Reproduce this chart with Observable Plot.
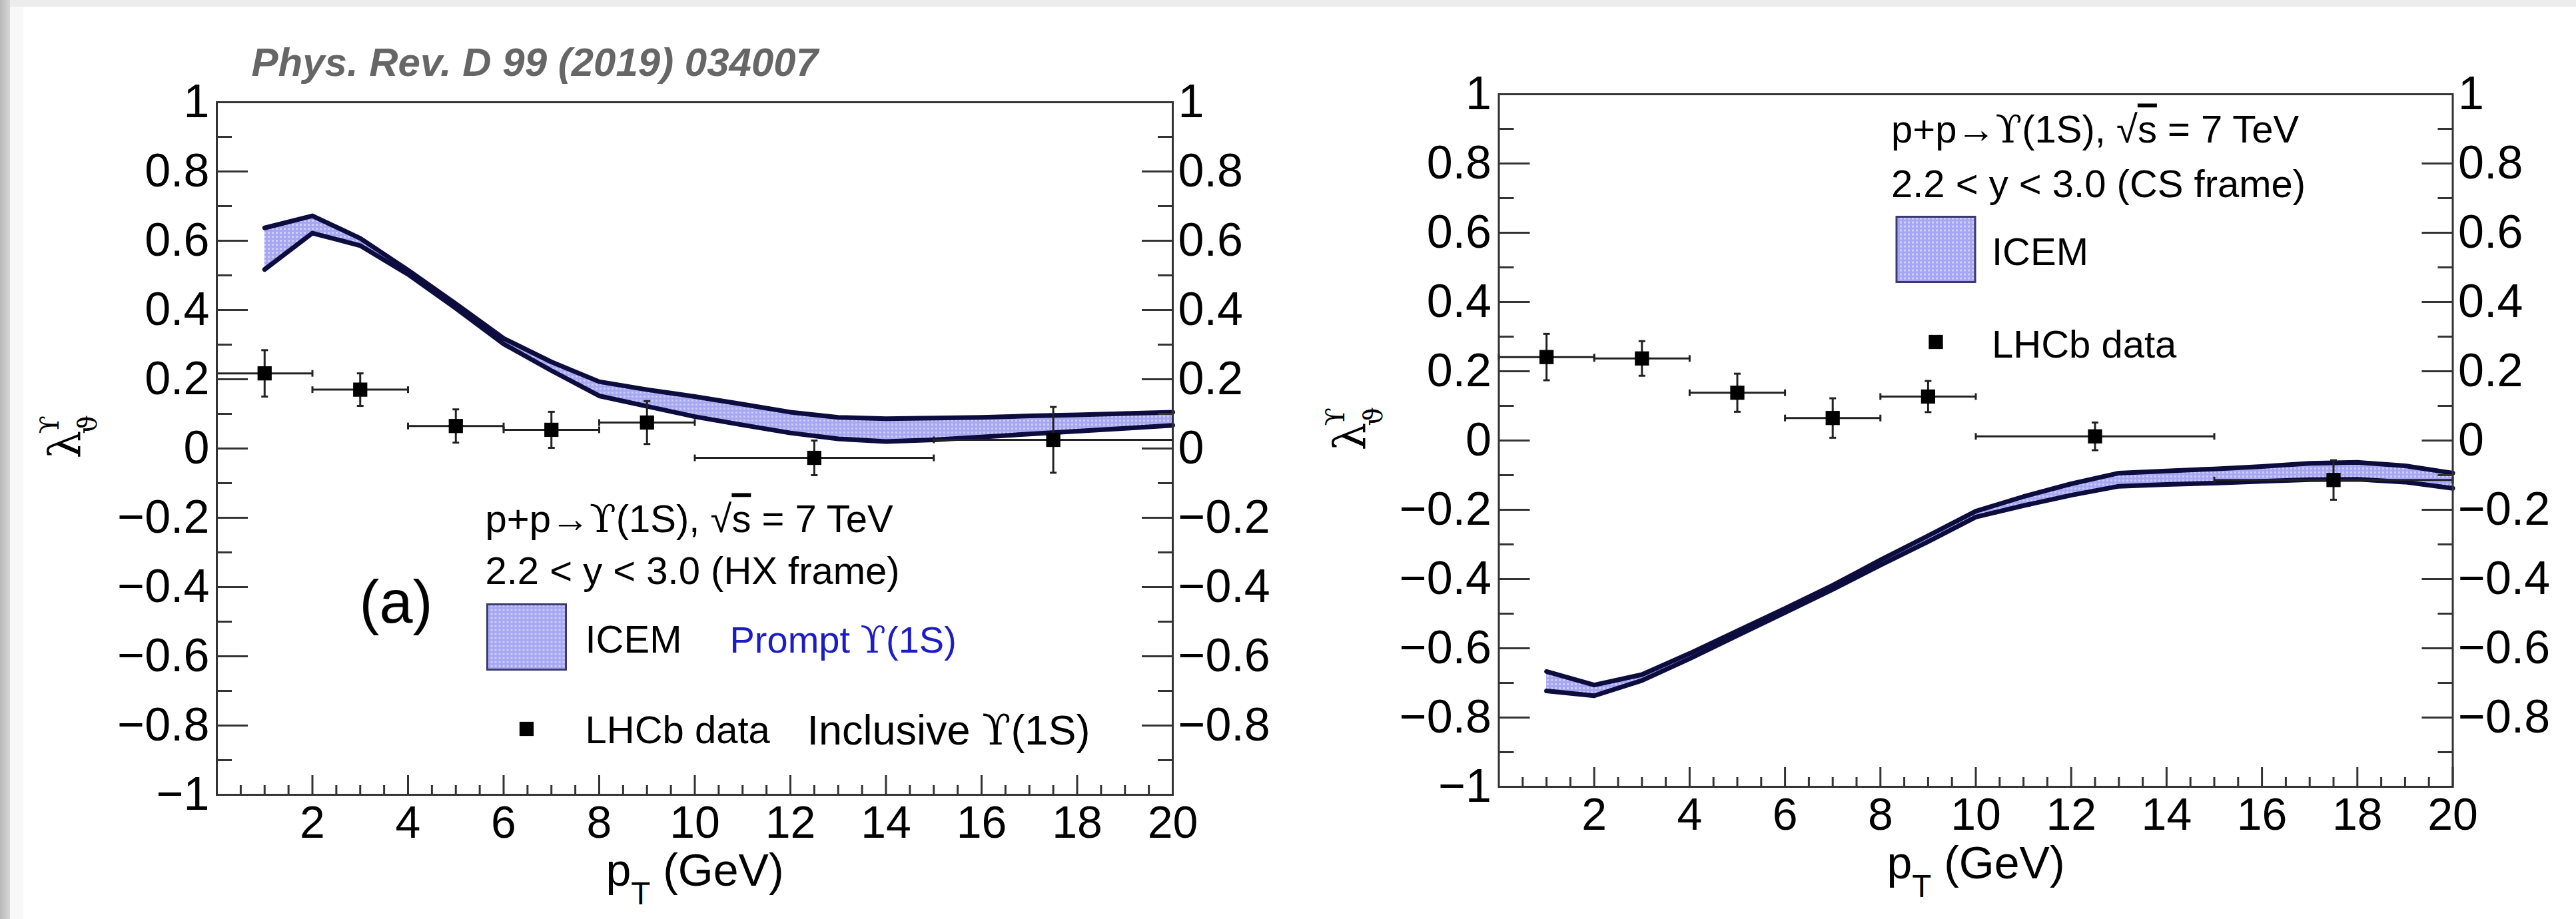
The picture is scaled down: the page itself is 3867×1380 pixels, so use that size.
<!DOCTYPE html>
<html>
<head>
<meta charset="utf-8">
<script src="https://cdn.jsdelivr.net/npm/d3@7"></script>
<script src="https://cdn.jsdelivr.net/npm/@observablehq/plot@0.6"></script>
<style>
html, body { margin: 0; padding: 0; background: #ffffff; }
#page { position: relative; width: 3867px; height: 1380px; overflow: hidden; background: #ffffff; }
#topbar { position: absolute; left: 0; top: 0; width: 3867px; height: 10px; background: #ececec; }
#leftbar { position: absolute; left: 0; top: 0; width: 15px; height: 1380px; background: linear-gradient(to right, #b8b8b8, #d6d6d6); }
#leftbar2 { position: absolute; left: 15px; top: 10px; width: 20px; height: 1370px; background: #f8f8f8; }
#left { position: absolute; left: 0; top: 0; width: 1950px; height: 1380px; }
#right { position: absolute; left: 1950px; top: 0; width: 1917px; height: 1380px; }
</style>
</head>
<body>
<div id="page">
  <div id="topbar"></div>
  <div id="leftbar"></div>
  <div id="leftbar2"></div>
  <div id="left"></div>
  <div id="right"></div>
</div>
<script>
// ---------------- data ----------------
const ptBand = [1, 2, 3, 4, 5, 6, 7, 8, 9, 10, 11, 12, 13, 14, 15, 16, 17, 18, 19, 20];
const hxUpper = [0.637, 0.672, 0.607, 0.515, 0.418, 0.318, 0.250, 0.193, 0.170, 0.150, 0.128, 0.105, 0.090, 0.086, 0.088, 0.090, 0.094, 0.097, 0.101, 0.105];
const hxLower = [0.517, 0.622, 0.586, 0.503, 0.405, 0.302, 0.225, 0.152, 0.122, 0.092, 0.068, 0.045, 0.028, 0.020, 0.025, 0.033, 0.042, 0.050, 0.058, 0.067];
const csUpper = [-0.667, -0.706, -0.676, -0.615, -0.550, -0.485, -0.418, -0.345, -0.275, -0.204, -0.162, -0.125, -0.094, -0.088, -0.082, -0.075, -0.066, -0.063, -0.073, -0.094];
const csLower = [-0.723, -0.737, -0.693, -0.630, -0.563, -0.497, -0.430, -0.360, -0.292, -0.221, -0.188, -0.158, -0.132, -0.127, -0.123, -0.118, -0.113, -0.112, -0.120, -0.138];

const ptData = [1, 3, 5, 7, 9, 12.5, 17.5];
const ptLow  = [0, 2, 4, 6, 8, 10, 15];
const ptHigh = [2, 4, 6, 8, 10, 15, 20];
const hxVal = [0.217, 0.170, 0.065, 0.054, 0.075, -0.027, 0.025];
const hxErr = [0.067, 0.047, 0.048, 0.052, 0.062, 0.050, 0.095];
const csVal = [0.241, 0.237, 0.138, 0.065, 0.127, 0.012, -0.114];
const csErr = [0.067, 0.050, 0.055, 0.057, 0.045, 0.040, 0.057];

const yMajorTicks = [-1, -0.8, -0.6, -0.4, -0.2, 0, 0.2, 0.4, 0.6, 0.8, 1];
const yMinorTicks = [-0.9, -0.7, -0.5, -0.3, -0.1, 0.1, 0.3, 0.5, 0.7, 0.9];
const yLeftLabels = [-1, -0.8, -0.6, -0.4, -0.2, 0, 0.2, 0.4, 0.6, 0.8, 1];
const yRightLabels = [-0.8, -0.6, -0.4, -0.2, 0, 0.2, 0.4, 0.6, 0.8, 1];
const xMajorTicks = [2, 4, 6, 8, 10, 12, 14, 16, 18, 20];
const xMinorTicks = d3.range(0.5, 20, 0.5).filter(v => v % 2 !== 0);

const citation = "Phys. Rev. D 99 (2019) 034007";
const procLabel = "p+p→ϒ(1S), √s = 7 TeV";
const hxLabel = "2.2 < y < 3.0 (HX frame)";
const csLabel = "2.2 < y < 3.0 (CS frame)";
const xTitle = "p_T (GeV)";

// ---------------- styling ----------------
const NAVY = "#0c0c3e";
const SANS = "'Liberation Sans', Arial, Helvetica, sans-serif";
const SERIF = "'DejaVu Serif', 'Liberation Serif', serif";
const fmt = d => String(+(+d).toFixed(1)).replace("-", "\u2212");

const capH = { draw(ctx, size) { const r = Math.sqrt(size / Math.PI); ctx.moveTo(-r, 0); ctx.lineTo(r, 0); } };
const capV = { draw(ctx, size) { const r = Math.sqrt(size / Math.PI); ctx.moveTo(0, -r); ctx.lineTo(0, r); } };
const legendBox = { draw(ctx) { ctx.rect(-59, -49, 118, 98); } };

function panel(cfg) {
  const band = ptBand.map((pt, i) => ({pt, hi: cfg.upper[i], lo: cfg.lower[i]}));
  const pts = ptData.map((pt, i) => ({pt, lo: ptLow[i], hi: ptHigh[i], val: cfg.val[i], err: cfg.err[i]}));
  const errStyle = {stroke: "#222", strokeWidth: 3};
  const textBase = {frameAnchor: "top-left", textAnchor: "start", lineAnchor: "bottom", fontFamily: SANS, fill: "#000"};
  const marks = [
    Plot.areaY(band, {x: "pt", y1: "lo", y2: "hi", fill: `url(#${cfg.pid})`}),
    Plot.line(band, {x: "pt", y: "hi", stroke: NAVY, strokeWidth: 7, strokeLinejoin: "round"}),
    Plot.line(band, {x: "pt", y: "lo", stroke: NAVY, strokeWidth: 7, strokeLinejoin: "round"}),
    Plot.ruleY(pts, {y: "val", x1: "lo", x2: "hi", ...errStyle}),
    Plot.ruleX(pts, {x: "pt", y1: d => d.val - d.err, y2: d => d.val + d.err, ...errStyle}),
    Plot.dot(pts, {x: "lo", y: "val", symbol: capV, r: 5, fill: "none", ...errStyle}),
    Plot.dot(pts, {x: "hi", y: "val", symbol: capV, r: 5, fill: "none", ...errStyle}),
    Plot.dot(pts, {x: "pt", y: d => d.val + d.err, symbol: capH, r: 5, fill: "none", ...errStyle}),
    Plot.dot(pts, {x: "pt", y: d => d.val - d.err, symbol: capH, r: 5, fill: "none", ...errStyle}),
    Plot.dot(pts, {x: "pt", y: "val", symbol: "square", r: 12, fill: "#000", stroke: "none"}),
    Plot.frame({stroke: "#333", strokeWidth: 3}),
    // tick marks (pointing inward)
    Plot.axisY(yMajorTicks, {anchor: "left", tickSize: -47, fill: "none", stroke: "#333", strokeWidth: 3, label: null}),
    Plot.axisY(yMinorTicks, {anchor: "left", tickSize: -23, fill: "none", stroke: "#333", strokeWidth: 3, label: null}),
    Plot.axisY(yMajorTicks, {anchor: "right", tickSize: -47, fill: "none", stroke: "#333", strokeWidth: 3, label: null}),
    Plot.axisY(yMinorTicks, {anchor: "right", tickSize: -23, fill: "none", stroke: "#333", strokeWidth: 3, label: null}),
    Plot.axisX(xMajorTicks, {anchor: "bottom", tickSize: -29, fill: "none", stroke: "#333", strokeWidth: 3, label: null}),
    Plot.axisX(xMinorTicks, {anchor: "bottom", tickSize: -14, fill: "none", stroke: "#333", strokeWidth: 3, label: null}),
    // tick labels
    Plot.axisY(yLeftLabels, {anchor: "left", tickSize: 0, tickPadding: 11, tickFormat: fmt, fontSize: 70, fontFamily: SANS, fill: "#000", label: null}),
    Plot.axisY(yRightLabels, {anchor: "right", tickSize: 0, tickPadding: 8, tickFormat: fmt, fontSize: 70, fontFamily: SANS, fill: "#000", label: null}),
    Plot.axisX(xMajorTicks, {anchor: "bottom", tickSize: 0, tickPadding: 16, tickFormat: d => String(d), fontSize: 68, fontFamily: SANS, fill: "#000", label: null}),
    // axis titles
    Plot.text([xTitle], {frameAnchor: "bottom", dy: cfg.xTitleDy, lineAnchor: "bottom", fontSize: 68, fontFamily: SANS, fill: "#000"}),
    Plot.text(["λ"], {frameAnchor: "left", dx: cfg.yTitleDx, dy: 15, rotate: -90, fontSize: 66, fontFamily: SERIF, fill: "#000"}),
    Plot.text(["ϒ"], {frameAnchor: "left", dx: cfg.yTitleDx - 23, dy: -22, rotate: -90, fontSize: 40, fontFamily: SERIF, fill: "#000"}),
    Plot.text(["ϑ"], {frameAnchor: "left", dx: cfg.yTitleDx + 34, dy: -22, rotate: -90, fontSize: 40, fontFamily: SERIF, fill: "#000"}),
    // legend
    Plot.text([procLabel], {...textBase, dx: cfg.lg.x, dy: cfg.lg.y1, fontSize: 58}),
    Plot.text([cfg.frameLabel], {...textBase, dx: cfg.lg.x, dy: cfg.lg.y2, fontSize: 58}),
    Plot.dot([0], {frameAnchor: "top-left", dx: cfg.lg.bx, dy: cfg.lg.by, symbol: legendBox, fill: `url(#${cfg.pid})`, stroke: "#3a3a6e", strokeWidth: 3}),
    Plot.text(["ICEM"], {...textBase, dx: cfg.lg.tx, dy: cfg.lg.ty1, fontSize: 58}),
    Plot.dot([0], {frameAnchor: "top-left", dx: cfg.lg.bx, dy: cfg.lg.my, symbol: "square", r: 12, fill: "#000", stroke: "none"}),
    Plot.text(["LHCb data"], {...textBase, dx: cfg.lg.tx, dy: cfg.lg.ty2, fontSize: 58}),
    ...cfg.extra(textBase)
  ];
  const svg = Plot.plot({
    width: cfg.width, height: 1380,
    marginTop: cfg.mt, marginRight: cfg.mr, marginBottom: cfg.mb, marginLeft: cfg.ml,
    x: {domain: [0, 20]},
    y: {domain: [-1, 1]},
    style: {background: "transparent", fontFamily: SANS, overflow: "visible"},
    marks
  });
  const ns = "http://www.w3.org/2000/svg";
  const defs = document.createElementNS(ns, "defs");
  defs.innerHTML = `<pattern id="${cfg.pid}" patternUnits="userSpaceOnUse" width="6" height="6">
      <rect width="6" height="6" fill="#a6a6f2"></rect>
      <rect x="0" y="0" width="3" height="3" fill="#cdcdfc"></rect>
    </pattern>`;
  svg.insertBefore(defs, svg.firstChild);
  richify(svg);
  return svg;
}

// turn "_T" into subscripts, Greek letters into serif glyphs, √s with overline
function richify(svg) {
  const ns = "http://www.w3.org/2000/svg";
  svg.querySelectorAll("text").forEach(t => {
    if (t.querySelector("tspan")) return;
    const s = t.textContent;
    if (!/[ϒϑλ_√]/.test(s)) return;
    t.textContent = "";
    const add = (txt, attrs) => {
      const ts = document.createElementNS(ns, "tspan");
      ts.textContent = txt;
      for (const k in attrs) ts.setAttribute(k, attrs[k]);
      t.appendChild(ts);
      return ts;
    };
    const re = /(_.)|([ϒϑλ])|(√s)/g;
    let last = 0, m, pendingDy = null;
    const plain = txt => { if (!txt) return; const a = {}; if (pendingDy) { a.dy = pendingDy; pendingDy = null; } add(txt, a); };
    while ((m = re.exec(s))) {
      plain(s.slice(last, m.index));
      if (m[1]) { add(m[1][1], {dy: "0.6em", "font-size": "70%"}); pendingDy = "-0.42em"; }
      else if (m[2]) { const a = {"font-family": SERIF}; if (pendingDy) { a.dy = pendingDy; pendingDy = null; } add(m[2], a); }
      else if (m[3]) { add("√", {}); add("s", {style: "text-decoration: overline"}); }
      last = re.lastIndex;
    }
    plain(s.slice(last));
  });
}

// ---------------- left panel (HX) ----------------
const leftSvg = panel({
  pid: "icemHX", width: 1950, mt: 153, mr: 190, mb: 187, ml: 325,
  upper: hxUpper, lower: hxLower, val: hxVal, err: hxErr,
  frameLabel: hxLabel, xTitleDy: 136, yTitleDx: -227,
  lg: {x: 403, y1: 645, y2: 723, bx: 465, by: 803, tx: 553, ty1: 826, my: 941, ty2: 962},
  extra: tb => [
    Plot.text(["(a)"], {...tb, dx: 214, dy: 781, fontSize: 90}),
    Plot.text(["Prompt ϒ(1S)"], {...tb, dx: 770, dy: 826, fontSize: 56, fill: "#1c1cc4"}),
    Plot.text(["Inclusive ϒ(1S)"], {...tb, dx: 886, dy: 964, fontSize: 63}),
    Plot.text([citation], {...tb, dx: 52, dy: -40, fontSize: 60, fontStyle: "italic", fontWeight: "bold", fill: "#666"})
  ]
});
document.getElementById("left").appendChild(leftSvg);

// ---------------- right panel (CS) ----------------
const rightSvg = panel({
  pid: "icemCS", width: 1917, mt: 141, mr: 185.5, mb: 199, ml: 299.5,
  upper: csUpper, lower: csLower, val: csVal, err: csErr,
  frameLabel: csLabel, xTitleDy: 137, yTitleDx: -222,
  lg: {x: 589, y1: 72, y2: 154, bx: 656, by: 233, tx: 740, ty1: 256, my: 372, ty2: 395},
  extra: () => []
});
document.getElementById("right").appendChild(rightSvg);
</script>
</body>
</html>
